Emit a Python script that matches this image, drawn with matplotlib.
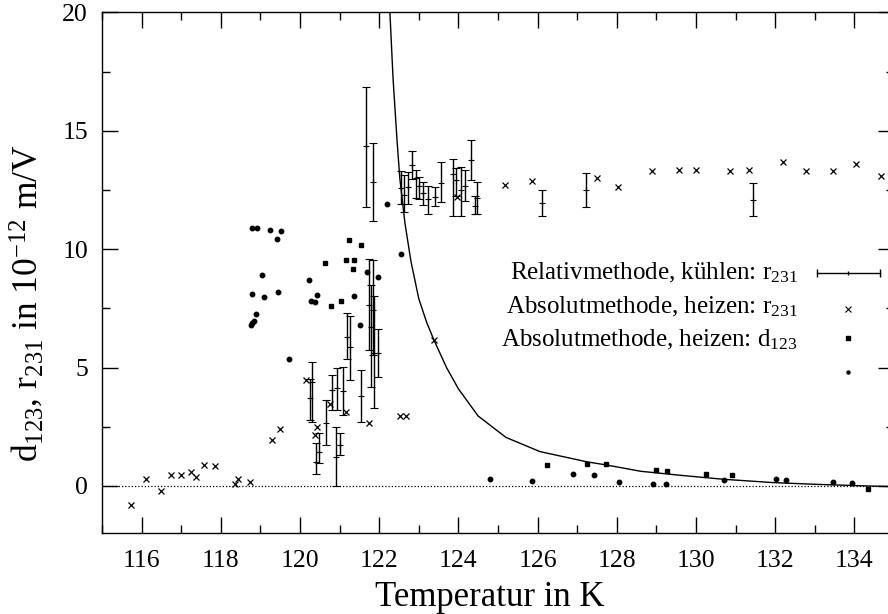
import matplotlib
matplotlib.use("Agg")
import matplotlib.pyplot as plt
from matplotlib.ticker import MultipleLocator

plt.rcParams["font.family"] = ["Liberation Serif", "DejaVu Serif"]
plt.rcParams["mathtext.fontset"] = "custom"
plt.rcParams["mathtext.rm"] = "Liberation Serif"
plt.rcParams["mathtext.it"] = "Liberation Serif:italic"

# ------------------------------------------------------------------
# Relativmethode, kuehlen: r231 (value, upper and lower end of bar)
# ------------------------------------------------------------------
rel_T = [120.26, 120.31, 120.40, 120.47, 120.65, 120.82, 120.90, 120.94, 121.00,
         121.09, 121.19, 121.26, 121.55, 121.66, 121.75, 121.79, 121.84, 121.85,
         121.87, 121.97, 122.54, 122.62, 122.73, 122.84, 122.93, 123.01, 123.11,
         123.24, 123.41, 123.55, 123.87, 123.95, 124.06, 124.16, 124.32, 124.42,
         124.46, 126.10, 127.22, 131.43]
rel_y = [3.71, 4.38, 1.03, 1.45, 2.65, 4.06, 1.24, 4.13, 1.73,
         3.99, 6.31, 5.86, 3.78, 14.34, 7.65, 6.73, 12.84, 7.44,
         5.61, 5.61, 12.58, 12.30, 12.62, 13.57, 13.00, 12.68, 12.37,
         12.12, 12.20, 12.79, 13.17, 12.93, 12.51, 12.65, 13.78, 11.81,
         12.16, 11.95, 12.48, 12.09]
rel_hi = [4.50, 5.25, 1.80, 2.23, 3.63, 4.69, 2.50, 4.97, 2.23,
          5.04, 7.30, 7.19, 4.90, 16.85, 9.58, 8.50, 14.48, 9.55,
          8.00, 6.62, 13.28, 13.14, 13.24, 14.16, 13.33, 13.05, 12.82,
          12.68, 12.61, 13.66, 13.81, 13.43, 13.47, 13.36, 14.62, 12.23,
          12.82, 12.51, 13.21, 12.79]
rel_lo = [2.80, 2.72, 0.50, 0.96, 1.73, 3.21, 0.00, 3.21, 1.31,
          3.00, 5.36, 4.48, 2.68, 11.77, 5.75, 4.17, 11.17, 5.54,
          3.28, 4.62, 11.92, 11.55, 11.92, 12.96, 12.16, 12.12, 11.88,
          11.48, 11.81, 11.98, 11.41, 12.23, 11.38, 12.02, 12.93, 11.49,
          11.49, 11.41, 11.76, 11.38]

# ------------------------------------------------------------------
# Absolutmethode, heizen: r231
# ------------------------------------------------------------------
abs_r_T = [115.73, 116.12, 116.49, 116.73, 117.00, 117.26, 117.38, 117.58, 117.86,
           118.36, 118.44, 118.73, 119.29, 119.50, 120.15, 120.37, 120.44, 120.77,
           121.16, 121.75, 122.52, 122.67, 123.38, 123.97, 125.18, 125.85, 127.51,
           128.04, 128.88, 129.58, 129.99, 130.85, 131.33, 132.20, 132.79, 133.46,
           134.05, 134.66]
abs_r_y = [-0.80, 0.30, -0.20, 0.46, 0.46, 0.59, 0.39, 0.89, 0.85,
           0.08, 0.30, 0.17, 1.94, 2.42, 4.48, 2.16, 2.48, 3.47,
           3.14, 2.65, 2.97, 2.97, 6.17, 12.20, 12.71, 12.86, 13.00,
           12.61, 13.28, 13.33, 13.33, 13.28, 13.33, 13.67, 13.28, 13.31,
           13.60, 13.10]

# ------------------------------------------------------------------
# Absolutmethode, heizen: d123 (squares)
# ------------------------------------------------------------------
abs_d_T = [120.63, 120.78, 121.03, 121.16, 121.23, 121.33, 121.36, 121.53,
           126.23, 127.24, 127.72, 128.99, 129.26, 130.25, 130.90, 134.34]
abs_d_y = [9.41, 7.58, 7.79, 9.52, 10.37, 9.16, 9.52, 10.16,
           0.90, 0.94, 0.93, 0.68, 0.63, 0.51, 0.48, -0.13]

# ------------------------------------------------------------------
# fourth data set (dots, no key title)
# ------------------------------------------------------------------
dot_T = [118.77, 118.79, 118.80, 118.80, 118.85, 118.90, 118.92, 119.04, 119.09,
         119.25, 119.42, 119.45, 119.52, 119.71, 120.23, 120.27, 120.39, 120.43,
         121.36, 121.52, 121.70, 121.96, 122.19, 122.56,
         124.81, 125.85, 126.90, 127.43, 128.05, 128.91, 129.23, 130.70, 132.03,
         132.28, 133.46, 133.94]
dot_y = [6.78, 8.09, 10.88, 6.90, 6.96, 7.24, 10.88, 8.92, 7.97,
         10.81, 10.44, 8.21, 10.76, 5.38, 8.71, 7.79, 7.75, 8.07,
         8.00, 6.80, 9.02, 8.82, 11.92, 9.80,
         0.30, 0.21, 0.49, 0.45, 0.17, 0.07, 0.07, 0.25, 0.31,
         0.24, 0.17, 0.13]

# ------------------------------------------------------------------
# theory curve
# ------------------------------------------------------------------
curve_T = [122.27, 122.35, 122.45, 122.52, 122.65, 122.80, 123.00, 123.20,
           123.38, 123.70, 124.00, 124.50, 125.20, 126.06, 127.24, 127.72,
           128.60, 129.60, 130.70, 131.96, 133.00, 134.30, 135.00]
curve_y = [20.0, 17.2, 14.6, 13.0, 11.1, 9.5, 7.9, 6.9,
           6.17, 5.0, 4.1, 2.95, 2.05, 1.45, 1.02, 0.89,
           0.62, 0.45, 0.28, 0.14, 0.07, 0.0, -0.03]

legend_labels = [
    r"Relativmethode, kühlen: r$_{231}$",
    r"Absolutmethode, heizen: r$_{231}$",
    r"Absolutmethode, heizen: d$_{123}$",
]

fig = plt.figure(figsize=(8.88, 6.14), dpi=100)
ax = fig.add_axes([102 / 888, (614 - 533.3) / 614, 792 / 888, 521 / 614])

# zero axis
ax.axhline(0, color="black", linestyle=(0, (1, 1.6)), linewidth=0.9, zorder=1)

# curve
ax.plot(curve_T, curve_y, color="black", linewidth=1.0, zorder=2)

# error bars
yerr = [[y - lo for y, lo in zip(rel_y, rel_lo)], [hi - y for y, hi in zip(rel_y, rel_hi)]]
ax.errorbar(
    rel_T, rel_y, yerr=yerr,
    fmt="+", color="black", markersize=5, markeredgewidth=0.8,
    elinewidth=1.0, capsize=3, capthick=1.0, zorder=3
)

ax.plot(abs_r_T, abs_r_y, linestyle="none", marker="x", markersize=5,
        markeredgewidth=0.9, color="black", zorder=4)
ax.plot(abs_d_T, abs_d_y, linestyle="none", marker="s", markersize=3.3,
        color="black", zorder=4)
ax.plot(dot_T, dot_y, linestyle="none", marker="o", markersize=3.2,
        color="black", zorder=4)

# axes
ax.set_xlim(115, 135)
ax.set_ylim(-2, 20)
ax.xaxis.set_major_locator(MultipleLocator(2))
ax.xaxis.set_minor_locator(MultipleLocator(1))
ax.yaxis.set_major_locator(MultipleLocator(5))
ax.yaxis.set_minor_locator(MultipleLocator(2.5))
ax.tick_params(which="both", direction="in", top=True, right=True, width=1.0)
ax.tick_params(which="major", length=11.5)
ax.tick_params(which="minor", length=5.8)
ax.tick_params(axis="x", labelsize=18.5, pad=12)
ax.tick_params(axis="y", labelsize=18.5, pad=10)
for s in ax.spines.values():
    s.set_linewidth(1.0)

ax.set_xlabel("Temperatur in K", fontsize=25, va="center")
ax.xaxis.set_label_coords((490 - 102) / 792, -(597 - 533.3) / 521)
ax.set_ylabel(r"d$_{123}$, r$_{231}$ in 10$^{-12}$ m/V", fontsize=25.5, va="center")
ax.yaxis.set_label_coords(-(102 - 27) / 792, (533.3 - 303) / 521)

# key (gnuplot style, no frame)
tx = (798 - 102) / 792
text_rows = [279, 313.3, 346.7]
mark_rows = [273.3, 309, 338, 371.7]
fy = lambda p: (533.3 - p) / 521
fx = lambda p: (p - 102) / 792

for lab, py in zip(legend_labels, text_rows):
    ax.text(tx, fy(py), lab, transform=ax.transAxes, ha="right",
            va="baseline", fontsize=18)

ax.plot([fx(817), fx(880)], [fy(mark_rows[0])] * 2, transform=ax.transAxes,
        color="black", linewidth=1.0, marker="|", markersize=6, clip_on=False)
ax.plot([fx(848)], [fy(mark_rows[0])], transform=ax.transAxes, color="black",
        marker="|", markersize=3, clip_on=False)
ax.plot([fx(848)], [fy(mark_rows[1])], transform=ax.transAxes, color="black",
        marker="x", markersize=3.8, markeredgewidth=0.8, linestyle="none")
ax.plot([fx(848)], [fy(mark_rows[2])], transform=ax.transAxes, color="black",
        marker="s", markersize=2.5, linestyle="none")
ax.plot([fx(848)], [fy(mark_rows[3])], transform=ax.transAxes, color="black",
        marker="o", markersize=2.2, linestyle="none")

fig.savefig("out.png", dpi=100)
